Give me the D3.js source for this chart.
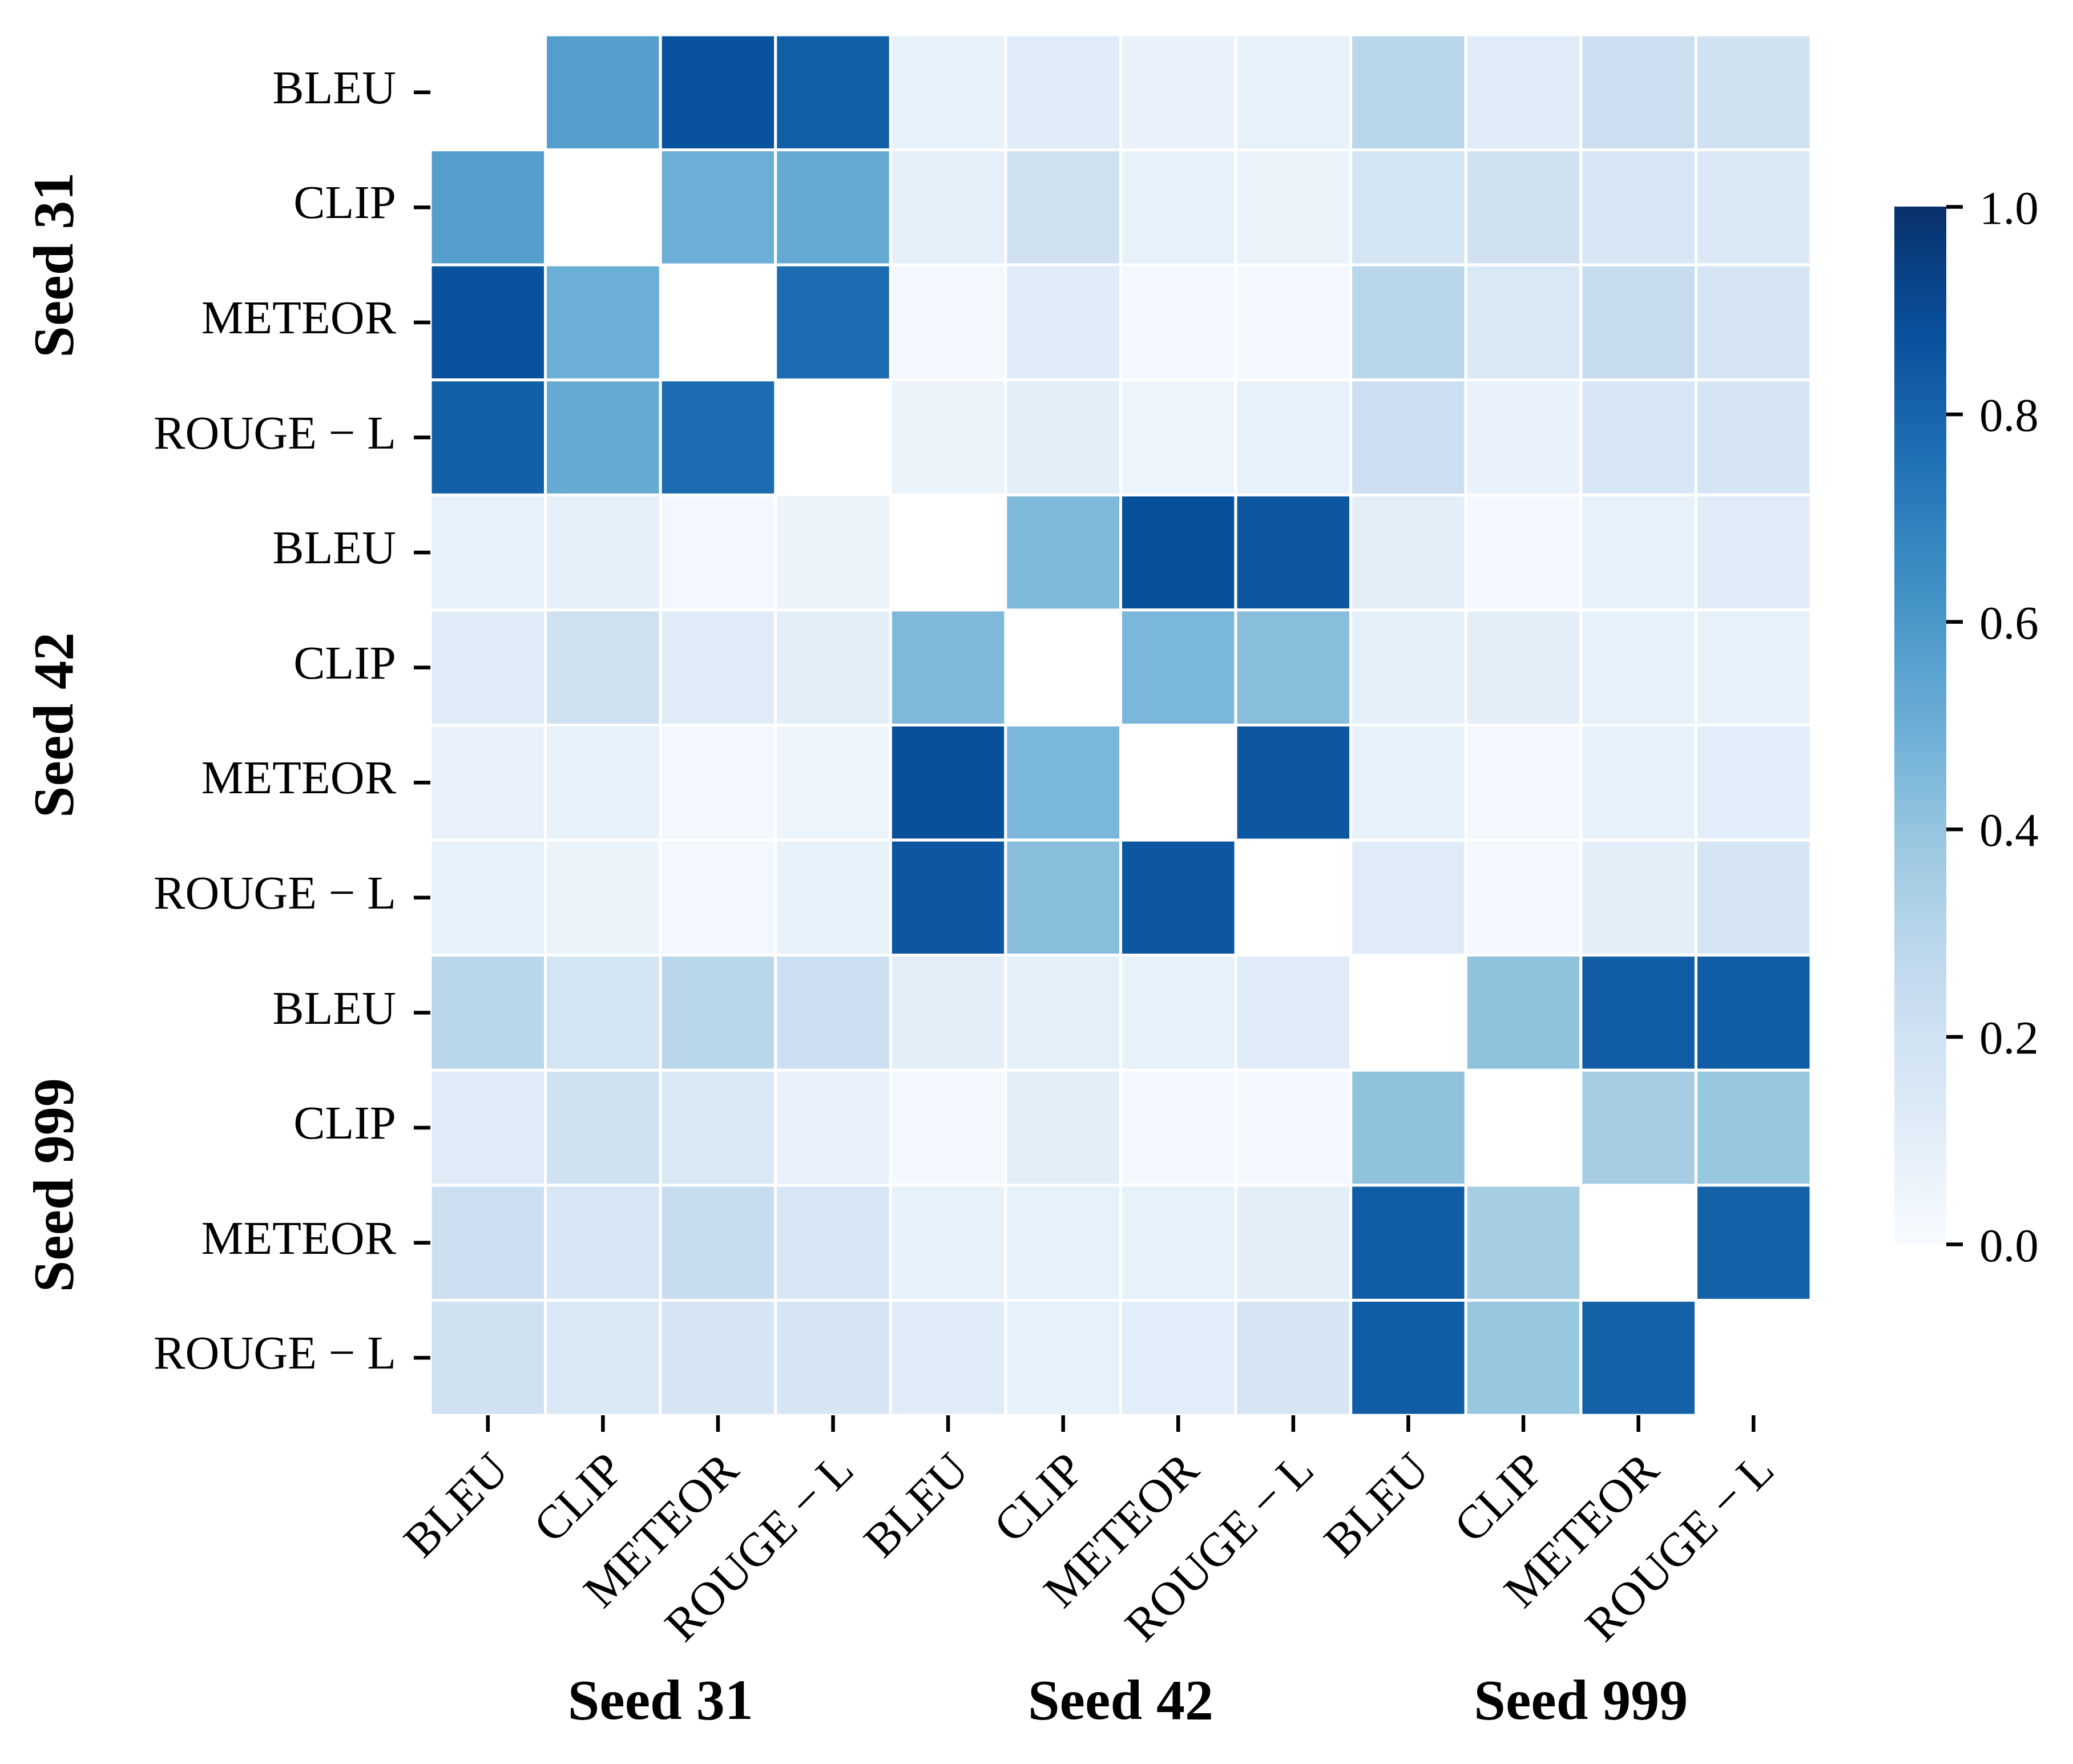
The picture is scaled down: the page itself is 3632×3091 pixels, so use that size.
<!DOCTYPE html>
<html>
<head>
<meta charset="utf-8">
<script src="https://cdn.jsdelivr.net/npm/d3@7"></script>
<style>
  body { margin: 0; background: #fff; }
  svg { display: block; font-family: "Liberation Serif", "Times New Roman", serif; }
</style>
</head>
<body>
<svg class="chart"></svg>
<script>
// DATA /////////////////////////////////////////
const seeds = ["Seed 31", "Seed 42", "Seed 999"];
const metrics = ["BLEU", "CLIP", "METEOR", "ROUGE − L"];
const colorTicks = [0, 0.2, 0.4, 0.6, 0.8, 1.0];

// correlation between every seed/metric pair, diagonal is masked
const corr = [
  [null, 0.57, 0.87, 0.82, 0.08, 0.12, 0.07, 0.08, 0.29, 0.12, 0.22, 0.20],
  [0.57, null, 0.50, 0.52, 0.09, 0.20, 0.08, 0.06, 0.18, 0.20, 0.16, 0.14],
  [0.87, 0.50, null, 0.77, 0.02, 0.12, 0.02, 0.02, 0.29, 0.15, 0.24, 0.17],
  [0.82, 0.52, 0.77, null, 0.06, 0.10, 0.05, 0.08, 0.22, 0.07, 0.16, 0.17],
  [0.08, 0.09, 0.02, 0.06, null, 0.45, 0.88, 0.85, 0.10, 0.02, 0.08, 0.12],
  [0.12, 0.20, 0.12, 0.10, 0.45, null, 0.46, 0.43, 0.09, 0.10, 0.08, 0.08],
  [0.07, 0.08, 0.02, 0.05, 0.88, 0.46, null, 0.85, 0.08, 0.02, 0.08, 0.11],
  [0.08, 0.06, 0.02, 0.08, 0.85, 0.43, 0.85, null, 0.12, 0.02, 0.10, 0.17],
  [0.29, 0.18, 0.29, 0.22, 0.10, 0.09, 0.08, 0.12, null, 0.41, 0.83, 0.83],
  [0.12, 0.20, 0.15, 0.07, 0.02, 0.10, 0.02, 0.02, 0.41, null, 0.35, 0.39],
  [0.22, 0.16, 0.24, 0.16, 0.08, 0.08, 0.08, 0.10, 0.83, 0.35, null, 0.81],
  [0.20, 0.14, 0.17, 0.17, 0.12, 0.08, 0.11, 0.17, 0.83, 0.39, 0.81, null]
];

// DEFINITIONS //////////////////////////////////
const width = 3632;
const height = 3091;
const hm = { left: 754, top: 61, size: 2419 };
const cb = { left: 3319, width: 91, top: 362, bottom: 2180 };
const fontFamily = '"Liberation Serif", "Times New Roman", serif';
const tickFont = 83;
const groupFont = 100;

const svg = d3.select(".chart").attr("width", width).attr("height", height);

const keys = seeds.flatMap((s) => metrics.map((m) => `${s}|${m}`));
const metricOf = (k) => k.split("|")[1];

const x = d3.scaleBand().domain(keys).range([hm.left, hm.left + hm.size]);
const y = d3.scaleBand().domain(keys).range([hm.top, hm.top + hm.size]);

// matplotlib "Blues"
const blues = ["#f7fbff", "#deebf7", "#c6dbef", "#9ecae1", "#6baed6",
               "#4292c6", "#2171b5", "#08519c", "#08306b"];
const color = d3.scaleLinear()
  .domain(d3.range(9).map((i) => i / 8))
  .range(blues)
  .interpolate(d3.interpolateRgb)
  .clamp(true);

// CELLS ////////////////////////////////////////
const cells = corr.flatMap((row, i) =>
  row.map((v, j) => ({ r: keys[i], c: keys[j], v }))
).filter((d) => d.v !== null);

svg.append("g")
  .selectAll("rect")
  .data(cells)
  .join("rect")
  .attr("x", (d) => x(d.c))
  .attr("y", (d) => y(d.r))
  .attr("width", x.bandwidth())
  .attr("height", y.bandwidth())
  .attr("fill", (d) => color(d.v))
  .attr("stroke", "#fff")
  .attr("stroke-width", 5);

// AXES /////////////////////////////////////////
const styleAxis = (g) => {
  g.attr("font-family", fontFamily).attr("font-size", tickFont);
  g.select(".domain").remove();
  g.selectAll(".tick line").attr("stroke", "#000").attr("stroke-width", 6.5);
  g.selectAll(".tick text").attr("fill", "#000");
};

svg.append("g")
  .attr("transform", `translate(${hm.left}, 0)`)
  .call(d3.axisLeft(y).tickSize(29).tickPadding(31).tickFormat(metricOf))
  .call(styleAxis)
  .call((g) => g.selectAll(".tick text").attr("dy", "0.23em"));

svg.append("g")
  .attr("transform", `translate(0, ${hm.top + hm.size})`)
  .call(d3.axisBottom(x).tickSize(29).tickFormat(metricOf))
  .call(styleAxis)
  .call((g) =>
    g.selectAll(".tick text")
      .attr("y", 0)
      .attr("dy", "0.683em")
      .attr("text-anchor", "end")
      .attr("transform", "translate(0, 60) rotate(-45)")
  );

// group labels
const groupCenter = (s) => {
  const first = `${s}|${metrics[0]}`;
  const last = `${s}|${metrics[metrics.length - 1]}`;
  return [(x(first) + x(last) + x.bandwidth()) / 2, (y(first) + y(last) + y.bandwidth()) / 2];
};

svg.append("g")
  .selectAll("text")
  .data(seeds)
  .join("text")
  .attr("transform", (s) => `translate(127, ${groupCenter(s)[1]}) rotate(-90)`)
  .attr("text-anchor", "middle")
  .style("font-size", `${groupFont}px`)
  .style("font-weight", "bold")
  .text((s) => s);

svg.append("g")
  .selectAll("text")
  .data(seeds)
  .join("text")
  .attr("x", (s) => groupCenter(s)[0])
  .attr("y", 3012)
  .attr("text-anchor", "middle")
  .style("font-size", `${groupFont}px`)
  .style("font-weight", "bold")
  .text((s) => s);

// COLORBAR /////////////////////////////////////
const cy = d3.scaleLinear().domain([0, 1]).range([cb.bottom, cb.top]);

const grad = svg.append("defs")
  .append("linearGradient")
  .attr("id", "cbar")
  .attr("x1", 0).attr("y1", 1)
  .attr("x2", 0).attr("y2", 0);

grad.selectAll("stop")
  .data(d3.range(0, 1.0001, 0.0625))
  .join("stop")
  .attr("offset", (t) => t)
  .attr("stop-color", (t) => color(t));

svg.append("rect")
  .attr("x", cb.left)
  .attr("y", cb.top)
  .attr("width", cb.width)
  .attr("height", cb.bottom - cb.top)
  .attr("fill", "url(#cbar)");

svg.append("g")
  .attr("transform", `translate(${cb.left + cb.width}, 0)`)
  .call(d3.axisRight(cy).tickValues(colorTicks).tickSize(29).tickPadding(29).tickFormat(d3.format(".1f")))
  .call(styleAxis)
  .call((g) => g.selectAll(".tick text").attr("dy", "0.35em"));
</script>
</body>
</html>
